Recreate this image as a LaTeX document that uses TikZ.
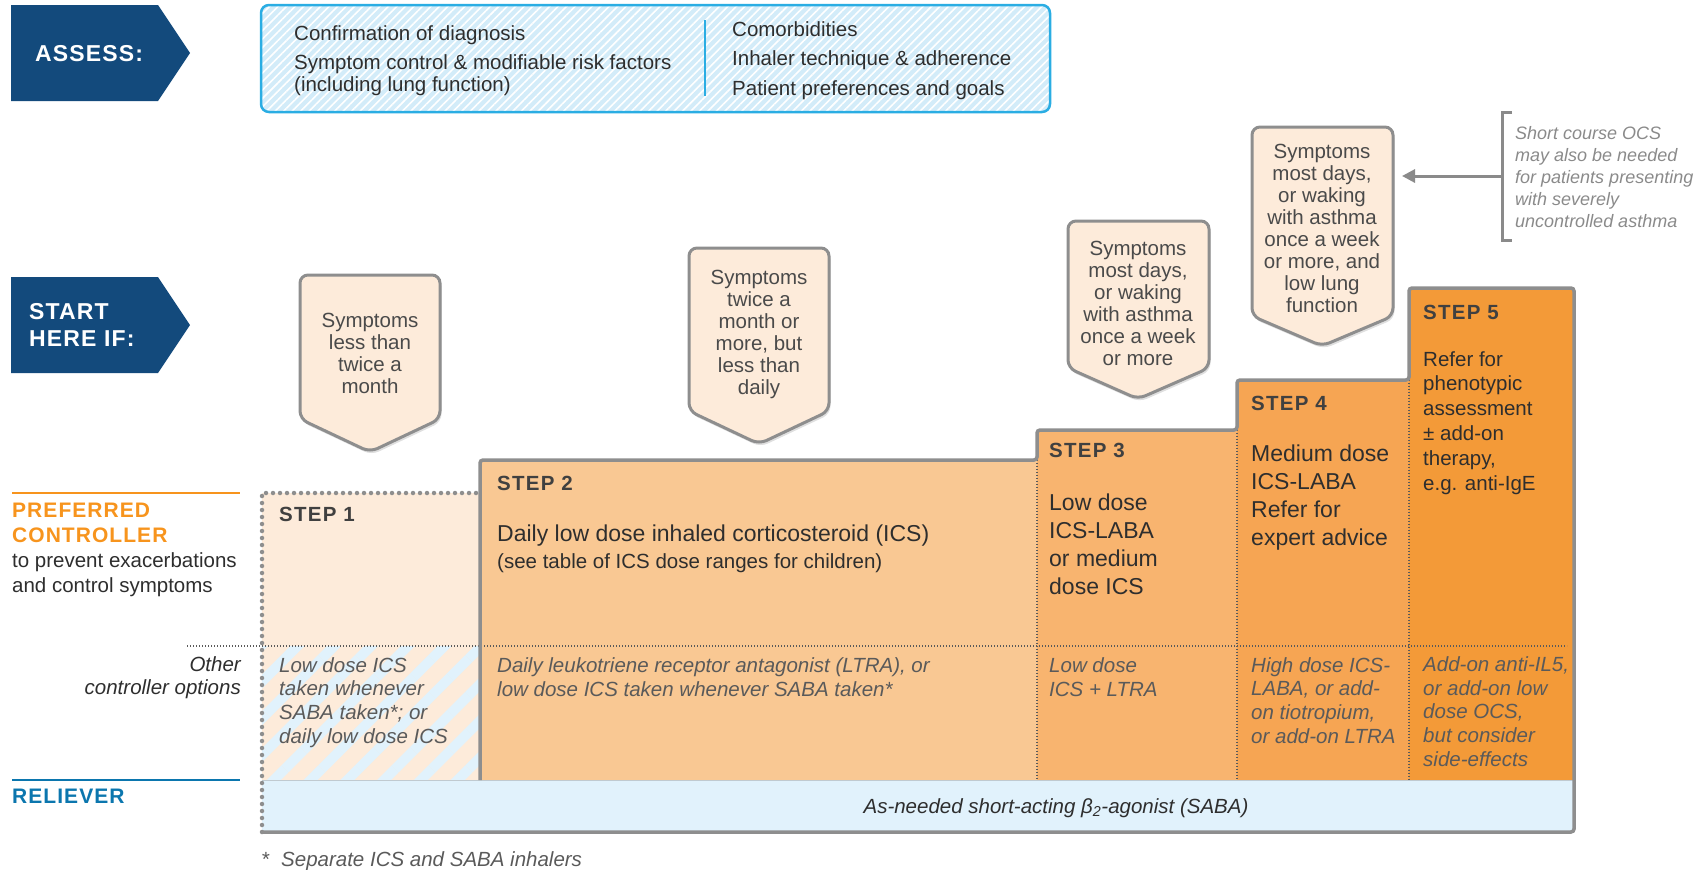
\documentclass[tikz,border=0pt]{standalone}
\usepackage{fontspec}
\setmainfont{Liberation Sans}
\usetikzlibrary{backgrounds,shadows,patterns.meta,arrows.meta}
\pgfdeclarelayer{edgelayer}
\pgfdeclarelayer{nodelayer}
\pgfsetlayers{edgelayer,main,nodelayer}
\definecolor{navy}{HTML}{134A7C}
\definecolor{cyanline}{HTML}{2AADE3}
\definecolor{cyanfill}{HTML}{D3ECF9}
\definecolor{peach}{HTML}{FDEBDA}
\definecolor{stepb}{HTML}{F9C893}
\definecolor{stepc}{HTML}{F8B46F}
\definecolor{stepd}{HTML}{F6A553}
\definecolor{stepe}{HTML}{F39A38}
\definecolor{sabablue}{HTML}{E1F2FC}
\definecolor{boxgrey}{HTML}{8E8E8E}
\definecolor{txtgrey}{HTML}{2E2E2E}
\definecolor{optgrey}{HTML}{5A5A5A}
\definecolor{headgrey}{HTML}{404040}
\definecolor{symgrey}{HTML}{4A4A4A}
\definecolor{ocsgrey}{HTML}{8A8A8A}
\definecolor{ctrlorange}{HTML}{F7941D}
\definecolor{relblue}{HTML}{0B76AE}
\tikzset{font=\fontsize{20.5}{22}\selectfont}
\tikzstyle{none}=[inner sep=0pt]
\tikzstyle{txt}=[inner sep=0pt,anchor=base west,align=left,text=txtgrey]
\tikzstyle{big}=[txt,font=\fontsize{23}{27.7}\selectfont]
\tikzstyle{opt}=[txt,text=optgrey,font=\itshape\fontsize{20.5}{23.6}\selectfont]
\tikzstyle{head}=[txt,text=headgrey,font=\bfseries\addfontfeature{LetterSpace=6}\fontsize{20.5}{24}\selectfont]
\tikzstyle{tag}=[fill=navy]
\tikzstyle{tagtxt}=[txt,text=white,font=\bfseries\addfontfeature{LetterSpace=5}\fontsize{23}{27}\selectfont]
\tikzstyle{sym}=[draw=boxgrey,line width=3pt,fill=peach,rounded corners=8pt,drop shadow={opacity=0.25,shadow xshift=1.5pt,shadow yshift=-3pt}]
\tikzstyle{symtxt}=[inner sep=0pt,anchor=base,align=center,text=symgrey]
\tikzstyle{dots}=[draw=boxgrey,line width=4.5pt,line cap=round,dash pattern=on 0pt off 7pt]
\tikzstyle{fine}=[draw=optgrey,line width=1.2pt,dash pattern=on 1.2pt off 1.8pt]
\tikzstyle{stair}=[draw=boxgrey,line width=3.5pt,rounded corners=3pt]

\begin{document}
\begin{tikzpicture}[x=1pt,y=-1pt]
	\useasboundingbox (0,0) rectangle (1706,870);
	\begin{pgfonlayer}{edgelayer}
		% steps
		\fill[peach] (262,493) rectangle (480,646);
		\fill[preaction={fill=peach},pattern={Lines[angle=45,distance=26pt,line width=10pt]},pattern color=sabablue] (262,646) rectangle (480,780);
		\fill[stepb] (480,460) rectangle (1037,780);
		\fill[stepc] (1037,430) rectangle (1237,780);
		\fill[stepd] (1237,380) rectangle (1409,780);
		\fill[stepe] (1409,288) rectangle (1574,780);
		\fill[sabablue] (262,780) rectangle (1574,832);
	\end{pgfonlayer}

	% banners
	\path[tag] (11,5) -- (158,5) -- (190,53) -- (158,101) -- (11,101) -- cycle;
	\path[tag] (11,277) -- (158,277) -- (190,325) -- (158,373) -- (11,373) -- cycle;
	\draw[preaction={fill=cyanfill},pattern={Lines[angle=45,distance=6pt,line width=1.6pt]},pattern color=white,draw=cyanline,line width=2.5pt,rounded corners=8pt] (261,5) rectangle (1050,112);
	\draw[cyanline,line width=2pt] (705,20) -- (705,96);

	% symptom boxes
	\draw[sym] (300,275) -- (300,419) -- (370,452) -- (440,419) -- (440,275) -- cycle;
	\draw[sym] (689,248) -- (689,411) -- (759,444) -- (829,411) -- (829,248) -- cycle;
	\draw[sym] (1068,221) -- (1068,368) -- (1138,399) -- (1209,368) -- (1209,221) -- cycle;
	\draw[sym] (1252,127) -- (1252,316) -- (1322,346) -- (1393,316) -- (1393,127) -- cycle;

	% ocs note
	\coordinate (b4) at (1402,176);
	\coordinate (br) at (1502,176);
	\draw[ocsgrey,line width=3pt] (1512,112) -- (1502,112) -- (1502,240) -- (1512,240);
	\draw[ocsgrey,line width=3pt,-{Triangle[length=13pt,width=13pt]}] (br) -- (b4);

	% grid lines
	\draw[sabablue!60!boxgrey,line width=1pt] (262,780) -- (1574,780);
	\draw[fine] (187,646) -- (1567,646);
	\draw[fine] (1037,460) -- (1037,780);
	\draw[fine] (1237,430) -- (1237,780);
	\draw[fine] (1409,380) -- (1409,780);
	\draw[dots] (262,832) -- (262,493) -- (480,493);
	\draw[stair] (480,780) -- (480,460) -- (1037,460) -- (1037,430) -- (1237,430) -- (1237,380) -- (1409,380) -- (1409,288) -- (1574,288) -- (1574,832) -- (262,832);
	\draw[ctrlorange,line width=1.3pt] (12,493) -- (240,493);
	\draw[relblue,line width=1.5pt] (12,780) -- (240,780);

	\begin{pgfonlayer}{nodelayer}
		\node [style=tagtxt] (0) at (35,61) {ASSESS:};
		\node [style=tagtxt] (1) at (29,346) {START\\HERE IF:};
		\node [style=txt] (2) at (294,40) {Confirmation of diagnosis};
		\node [style=txt] (3) at (294,91) {Symptom control \& modifiable risk factors\\(including lung function)};
		\node [style=txt] (4) at (732,36) {Comorbidities};
		\node [style=txt] (5) at (732,65) {Inhaler technique \& adherence};
		\node [style=txt] (6) at (732,95) {Patient preferences and goals};

		\node [style=symtxt] (7) at (370,393) {Symptoms\\less than\\twice a\\month};
		\node [style=symtxt] (8) at (759,394) {Symptoms\\twice a\\month or\\more, but\\less than\\daily};
		\node [style=symtxt] (9) at (1138,365) {Symptoms\\most days,\\or waking\\with asthma\\once a week\\or more};
		\node [style=symtxt] (10) at (1322,312) {Symptoms\\most days,\\or waking\\with asthma\\once a week\\or more, and\\low lung\\function};
		\node [style=txt,text=ocsgrey,font=\itshape\fontsize{18}{22}\selectfont] (11) at (1515,227) {Short course OCS\\may also be needed\\for patients presenting\\with severely\\uncontrolled asthma};

		\node [style=txt,text=ctrlorange,font=\bfseries\addfontfeature{LetterSpace=5}\fontsize{21}{25}\selectfont] (12) at (12,542) {PREFERRED\\CONTROLLER};
		\node [style=txt,font=\fontsize{20.5}{25}\selectfont] (13) at (12,592) {to prevent exacerbations\\and control symptoms};
		\node [style=txt,anchor=base east,align=right,font=\itshape\fontsize{20.5}{23}\selectfont] (14) at (241,694) {Other\\controller options};
		\node [style=txt,text=relblue,font=\bfseries\addfontfeature{LetterSpace=5}\fontsize{21}{25}\selectfont] (15) at (12,803) {RELIEVER};

		\node [style=head] (16) at (279,521) {STEP 1};
		\node [style=head] (17) at (497,490) {STEP 2};
		\node [style=head] (18) at (1049,457) {STEP 3};
		\node [style=head] (19) at (1251,410) {STEP 4};
		\node [style=head] (20) at (1423,319) {STEP 5};

		\node [style=big] (21) at (497,541) {Daily low dose inhaled corticosteroid (ICS)};
		\node [style=txt] (22) at (497,568) {(see table of ICS dose ranges for children)};
		\node [style=big] (23) at (1049,594) {Low dose\\ICS-LABA\\or medium\\dose ICS};
		\node [style=big,font=\fontsize{23}{28}\selectfont] (24) at (1251,545) {Medium dose\\ICS-LABA\\Refer for\\expert advice};
		\node [style=txt,font=\fontsize{20.5}{24.8}\selectfont] (25) at (1423,490) {Refer for\\phenotypic\\assessment\\± add-on\\therapy,\\e.g. anti-IgE};

		\node [style=opt] (26) at (279,743) {Low dose ICS\\taken whenever\\SABA taken*; or\\daily low dose ICS};
		\node [style=opt] (27) at (497,696) {Daily leukotriene receptor antagonist (LTRA), or\\low dose ICS taken whenever SABA taken*};
		\node [style=opt] (28) at (1049,696) {Low dose\\ICS + LTRA};
		\node [style=opt] (29) at (1251,743) {High dose ICS-\\LABA, or add-\\on tiotropium,\\or add-on LTRA};
		\node [style=opt] (30) at (1423,766) {Add-on anti-IL5,\\or add-on low\\dose OCS,\\but consider\\side-effects};

		\node [style=opt,anchor=base,text=txtgrey] (31) at (1056,813) {As-needed short-acting β\textsubscript{2}-agonist (SABA)};
		\node [style=opt,text=optgrey] (32) at (261,866) {*};
		\node [style=opt,text=optgrey] (33) at (281,866) {Separate ICS and SABA inhalers};
	\end{pgfonlayer}
\end{tikzpicture}
\end{document}
